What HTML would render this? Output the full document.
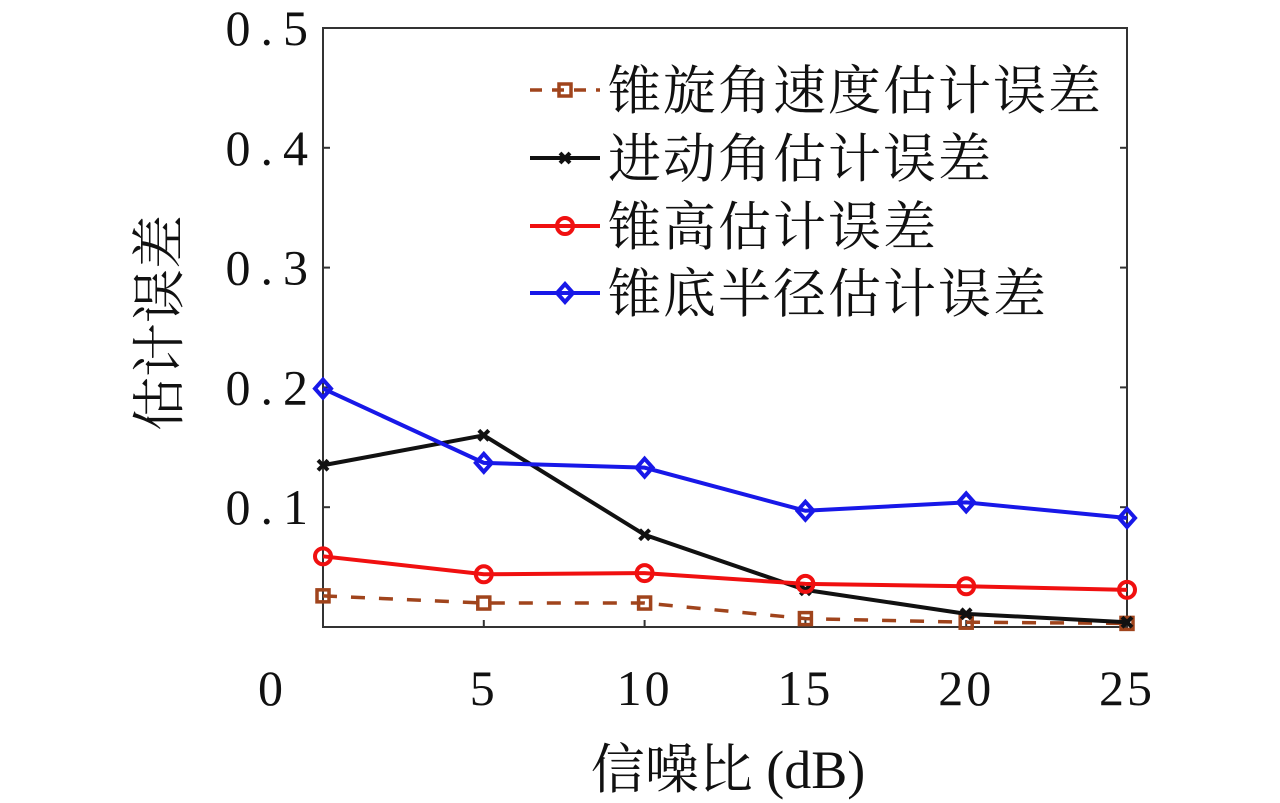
<!DOCTYPE html>
<html><head><meta charset="utf-8"><style>
html,body{margin:0;padding:0;background:#fff;}
svg{display:block;}
text{font-family:"Liberation Serif","Noto Serif CJK SC",serif;fill:#111;}
</style></head><body>
<svg id="chart" width="1280" height="803" viewBox="0 0 1280 803">
<g id="axes"></g>
<g id="series"></g>
<g id="legend"></g>
<text x="178" y="323" font-size="54" text-anchor="middle" transform="rotate(-90 178 323)">估计误差</text>
<text x="728" y="788" font-size="54" text-anchor="middle">信噪比 (dB)</text>
</svg>
<script>
const xValues = [0, 5, 10, 15, 20, 25];
const xTicks = [0, 5, 10, 15, 20, 25];
const yTicks = [0.1, 0.2, 0.3, 0.4, 0.5];
const spinErr = [0.026, 0.020, 0.020, 0.007, 0.004, 0.003];
const precessionErr = [0.135, 0.160, 0.077, 0.031, 0.011, 0.004];
const heightErr = [0.059, 0.044, 0.045, 0.036, 0.034, 0.031];
const radiusErr = [0.199, 0.137, 0.133, 0.097, 0.104, 0.091];
const seriesNames = ["锥旋角速度估计误差","进动角估计误差","锥高估计误差","锥底半径估计误差"];

const L=323,R=1127,T=28,B=627;
const xs=v=>L+(v-0)/(25-0)*(R-L);
const ys=v=>B-(v-0)/(0.5-0)*(B-T);
const NS="http://www.w3.org/2000/svg";
function mk(tag,attrs,parent){const e=document.createElementNS(NS,tag);for(const k in attrs)e.setAttribute(k,attrs[k]);parent.appendChild(e);return e;}
const axes=document.getElementById('axes');
let f=mk('rect',{x:L,y:T,width:R-L,height:B-T,fill:'none',stroke:'#333','stroke-width':2},axes);


xTicks.forEach(t=>{
  const x=xs(t);
  let l=mk('line',{x1:x,y1:B,x2:x,y2:B-7,stroke:'#333','stroke-width':2},axes);
  
  
  let tx=mk('text',{x:t===0?272:x,y:705,'font-size':50,'text-anchor':'middle','letter-spacing':3},axes);
  tx.textContent=t;
  
  
});
yTicks.forEach(t=>{
  const y=ys(t);
  let l=mk('line',{x1:L,y1:y,x2:L+7,y2:y,stroke:'#333','stroke-width':2},axes);
  
  
  let l2=mk('line',{x1:R,y1:y,x2:R-7,y2:y,stroke:'#333','stroke-width':2},axes);
  
  
  let tx=mk('text',{x:318,y:y+17,'font-size':50,'text-anchor':'end','letter-spacing':10},axes);
  tx.textContent=t.toFixed(1);
  
  
});
function marker(kind,x,y,color,parent){
  let m;
  if(kind==='sq') m=mk('rect',{x:x-6,y:y-6,width:12,height:12,fill:'none',stroke:color,'stroke-width':3.5},parent);
  else if(kind==='x'){m=mk('path',{d:`M${x-5},${y-5}L${x+5},${y+5}M${x-5},${y+5}L${x+5},${y-5}`,stroke:color,'stroke-width':4},parent);}
  else if(kind==='o') m=mk('circle',{cx:x,cy:y,r:8,fill:'none',stroke:color,'stroke-width':4},parent);
  else m=mk('path',{d:`M${x},${y-9}L${x+8},${y}L${x},${y+9}L${x-8},${y}Z`,fill:'none',stroke:color,'stroke-width':4},parent);
  
  
}
const defs=[
 {d:spinErr,c:'#a0441c',k:'sq',dash:'14,14',w:3.5,n:'spin-rate-series'},
 {d:precessionErr,c:'#111',k:'x',dash:'',w:4,n:'precession-series'},
 {d:heightErr,c:'#f01010',k:'o',dash:'',w:4,n:'height-series'},
 {d:radiusErr,c:'#1818e8',k:'dia',dash:'',w:4,n:'radius-series'}];
const sg=document.getElementById('series');
defs.forEach(s=>{
  const g=mk('g',{},sg);
  
  
  const pts=s.d.map((v,i)=>xs(xValues[i])+','+ys(v)).join(' ');
  const pl=mk('polyline',{points:pts,fill:'none',stroke:s.c,'stroke-width':s.w,'stroke-dasharray':s.dash},g);
  
  
  s.d.forEach((v,i)=>marker(s.k,xs(xValues[i]),ys(v),s.c,g));
});
const lg=document.getElementById('legend');
const rowsY=[90,158,226,293];
defs.forEach((s,i)=>{
  const g=mk('g',{},lg);
  
  
  const y=rowsY[i];
  mk('line',{x1:530,y1:y,x2:600,y2:y,stroke:s.c,'stroke-width':s.w,'stroke-dasharray':s.dash?'12,10':''},g);
  marker(s.k,565,y,s.c,g);
  const t=mk('text',{x:608,y:y+19,'font-size':53,'letter-spacing':2},g);
  t.textContent=seriesNames[i];
  
  
});
</script>
</body></html>
